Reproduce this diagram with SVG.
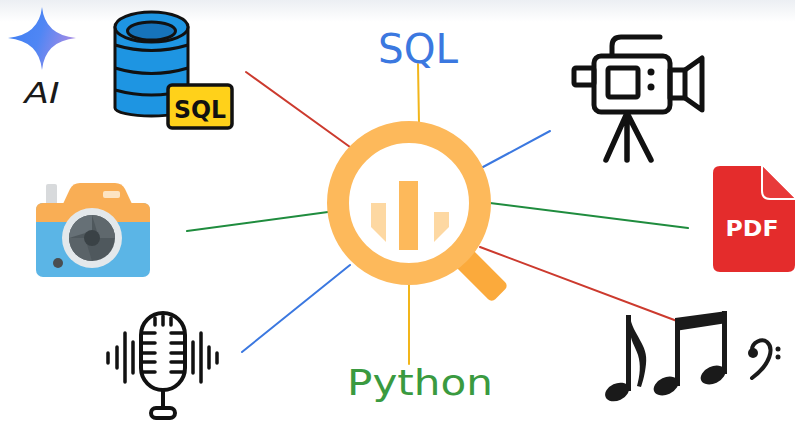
<svg xmlns="http://www.w3.org/2000/svg" width="795" height="421" viewBox="0 0 795 421">
  <defs>
    <linearGradient id="topFade" x1="0" y1="0" x2="0" y2="1">
      <stop offset="0" stop-color="#ECEFF3"/>
      <stop offset="1" stop-color="#FFFFFF"/>
    </linearGradient>
    <linearGradient id="starFill" x1="0" y1="0" x2="1" y2="0.3">
      <stop offset="0" stop-color="#3E7EF2"/>
      <stop offset="0.55" stop-color="#4F86F4"/>
      <stop offset="1" stop-color="#A08BE6"/>
    </linearGradient>
    <style>
      .conn { fill: none; stroke-width: 2; stroke-linecap: round; }
      .red { stroke: #CC3A2E; }
      .blue { stroke: #3B78E0; }
      .green { stroke: #1F8C3E; }
      .yellow { stroke: #F2B51A; }
      .ink { fill: none; stroke: #111; stroke-linecap: round; stroke-linejoin: round; }
      .db { stroke: #111; stroke-width: 3; stroke-linejoin: round; }
      .note { fill: #1A1A1A; }
    </style>
  </defs>

  <!-- page background -->
  <rect x="0" y="0" width="795" height="421" fill="#FFFFFF"/>
  <rect x="0" y="0" width="795" height="22" fill="url(#topFade)"/>

  <!-- connectors -->
  <g id="connectors">
    <line class="conn red" x1="246" y1="72" x2="350" y2="147"/>
    <line class="conn yellow" x1="418" y1="64" x2="419" y2="124"/>
    <line class="conn blue" x1="483" y1="167" x2="550" y2="131"/>
    <line class="conn green" x1="187" y1="231" x2="328" y2="212"/>
    <line class="conn green" x1="490" y1="203" x2="688" y2="228"/>
    <line class="conn red" x1="480" y1="247" x2="677" y2="321"/>
    <line class="conn blue" x1="242" y1="352" x2="350" y2="265"/>
    <line class="conn yellow" x1="409" y1="284" x2="409" y2="364"/>
  </g>

  <!-- central magnifier with bar chart -->
  <g id="magnifier">
    <rect x="475" y="191" width="63" height="24" rx="5" fill="#FBAA3C" transform="rotate(45 409 203)"/>
    <circle cx="409" cy="203" r="71" fill="#FFFFFF" stroke="#FDB95B" stroke-width="22"/>
    <rect x="399" y="181" width="19" height="69" fill="#FDB95B"/>
    <polygon points="371,203 386,203 386,242 371,227" fill="#FDD8A2"/>
    <polygon points="434,212 449,212 449,227 434,242" fill="#FDD8A2"/>
  </g>

  <!-- labels on the vertical axis -->
  <g id="label-sql">
    <text x="418" y="63" font-family="DejaVu Sans, sans-serif" font-size="40" fill="#3B78E0" text-anchor="middle" textLength="80" lengthAdjust="spacingAndGlyphs">SQL</text>
  </g>
  <g id="label-python">
    <text x="420" y="395" font-family="DejaVu Sans, sans-serif" font-size="35" fill="#3A9A40" text-anchor="middle" textLength="146" lengthAdjust="spacingAndGlyphs">Python</text>
  </g>

  <!-- AI sparkle -->
  <g id="ai">
    <path d="M42,7 Q45,35 76,38 Q45,41 42,70 Q39,41 8,38 Q39,35 42,7 Z" fill="url(#starFill)"/>
    <text x="42" y="103" font-family="DejaVu Sans, sans-serif" font-style="italic" font-size="29" fill="#1A1A1A" text-anchor="middle" textLength="35" lengthAdjust="spacingAndGlyphs">AI</text>
  </g>

  <!-- database with SQL tag -->
  <g id="database">
    <path class="db" d="M115,27 V108 A36.5,8 0 0 0 188,108 V27 Z" fill="#1E95E2"/>
    <path class="db" fill="none" d="M115,45 Q151.5,56 188,45"/>
    <path class="db" fill="none" d="M115,68 Q151.5,79 188,68"/>
    <path class="db" fill="none" d="M115,90 Q151.5,100 188,90"/>
    <ellipse class="db" cx="151.5" cy="27" rx="36.5" ry="15" fill="#1E95E2"/>
    <ellipse class="db" cx="151.5" cy="31" rx="24" ry="9" fill="#1673BA"/>
    <rect x="168" y="85" width="64" height="43" rx="4" fill="#FFD11A" stroke="#111" stroke-width="3.5"/>
    <text x="200" y="118" font-family="DejaVu Sans, sans-serif" font-weight="bold" font-size="25" fill="#111" text-anchor="middle" textLength="52" lengthAdjust="spacingAndGlyphs">SQL</text>
  </g>

  <!-- photo camera -->
  <g id="camera">
    <rect x="46" y="184" width="11" height="22" rx="2" fill="#D8DADC"/>
    <path d="M62,206 L70,189 Q73,183 80,183 H115 Q122,183 125,189 L133,206 Z" fill="#F9AE55"/>
    <rect x="36" y="203" width="114" height="74" rx="7" fill="#5BB5E6"/>
    <path d="M36,222 V210 Q36,203 43,203 H143 Q150,203 150,210 V222 Z" fill="#F9AE55"/>
    <rect x="103" y="191" width="17" height="7" rx="2" fill="#FDE4C2"/>
    <circle cx="92" cy="238" r="30" fill="#E3E8EB"/>
    <circle cx="92" cy="238" r="23" fill="#4F585D"/>
    <path d="M92,215 A23,23 0 0 1 115,238 L99,238 Z" fill="#5F686D"/>
    <path d="M69,238 A23,23 0 0 1 92,215 L92,231 Z" fill="#667076"/>
    <path d="M92,261 A23,23 0 0 1 69,238 L85,238 Z" fill="#5A6368"/>
    <circle cx="92" cy="238" r="8" fill="#3A4246"/>
    <circle cx="58" cy="263" r="5" fill="#4A4E51"/>
  </g>

  <!-- video camera on tripod -->
  <g id="video-camera">
    <path class="ink" stroke-width="5" d="M612,55 V46 Q612,37 621,37 H660"/>
    <rect class="ink" stroke-width="5" x="594" y="56" width="76" height="56" rx="7"/>
    <rect class="ink" stroke-width="5" x="574" y="68" width="20" height="17" rx="2"/>
    <rect class="ink" stroke-width="5" x="608" y="68" width="30" height="29" rx="2"/>
    <circle cx="651" cy="72" r="3.5" fill="#111"/>
    <circle cx="651" cy="87" r="3.5" fill="#111"/>
    <rect class="ink" stroke-width="5" x="670" y="70" width="15" height="28"/>
    <path class="ink" stroke-width="5" d="M685,70 L702,58 V110 L685,98"/>
    <path class="ink" stroke-width="5.5" d="M627,113 L606,160 M627,113 V160 M627,113 L651,160"/>
  </g>

  <!-- PDF document -->
  <g id="pdf">
    <path d="M720,166 H762 L795,199 V265 Q795,272 788,272 H720 Q713,272 713,265 V173 Q713,166 720,166 Z" fill="#E42C2C"/>
    <path d="M762,166 V191 Q762,199 770,199 H795" fill="#E83A3A" stroke="#FFFFFF" stroke-width="2"/>
    <text x="752" y="236" font-family="DejaVu Sans, sans-serif" font-weight="bold" font-size="22" fill="#FFFFFF" text-anchor="middle" textLength="53" lengthAdjust="spacingAndGlyphs">PDF</text>
  </g>

  <!-- microphone with sound waves -->
  <g id="microphone">
    <rect class="ink" stroke-width="4" x="141" y="313" width="44" height="77" rx="22"/>
    <path class="ink" stroke-width="3.5" d="M155,318 V325 M163,316 V325 M171,318 V325"/>
    <path class="ink" stroke-width="3.5" d="M143,333 H155 M143,343 H155 M143,353 H155 M143,362 H155 M143,372 H155"/>
    <path class="ink" stroke-width="3.5" d="M171,333 H183 M171,343 H183 M171,353 H183 M171,362 H183 M171,372 H183"/>
    <path class="ink" stroke-width="4" d="M163,390 V408"/>
    <rect class="ink" stroke-width="4" x="151" y="408" width="24" height="10" rx="5"/>
    <path class="ink" stroke-width="3.5" d="M108,353 V363 M117,347 V368 M125,333 V382 M133,342 V373"/>
    <path class="ink" stroke-width="3.5" d="M193,342 V373 M201,333 V382 M209,347 V368 M217,353 V363"/>
  </g>

  <!-- music notes and bass clef -->
  <g id="music">
    <rect class="note" x="626" y="315" width="5" height="76"/>
    <path class="note" d="M630,316 C632,334 649,345 646,364 C645,374 643,381 641,387 L637,386 C640,375 641,365 638,355 C635,346 630,340 630,330 Z"/>
    <ellipse class="note" cx="617" cy="392" rx="12.5" ry="8.5" transform="rotate(-25 617 392)"/>
    <polygon class="note" points="675,318 727,311 727,323 675,331"/>
    <rect class="note" x="675" y="318" width="5" height="68"/>
    <rect class="note" x="722" y="311" width="5" height="63"/>
    <ellipse class="note" cx="666" cy="386" rx="13" ry="8.5" transform="rotate(-25 666 386)"/>
    <ellipse class="note" cx="713" cy="375" rx="13" ry="8.5" transform="rotate(-25 713 375)"/>
    <path d="M752,350 C752,342 762,338 767,342 C774,348 771,364 752,378" fill="none" stroke="#1A1A1A" stroke-width="4" stroke-linecap="round"/>
    <circle class="note" cx="753" cy="353" r="5"/>
    <circle class="note" cx="778" cy="349" r="2.5"/>
    <circle class="note" cx="778" cy="357" r="2.5"/>
  </g>
</svg>
